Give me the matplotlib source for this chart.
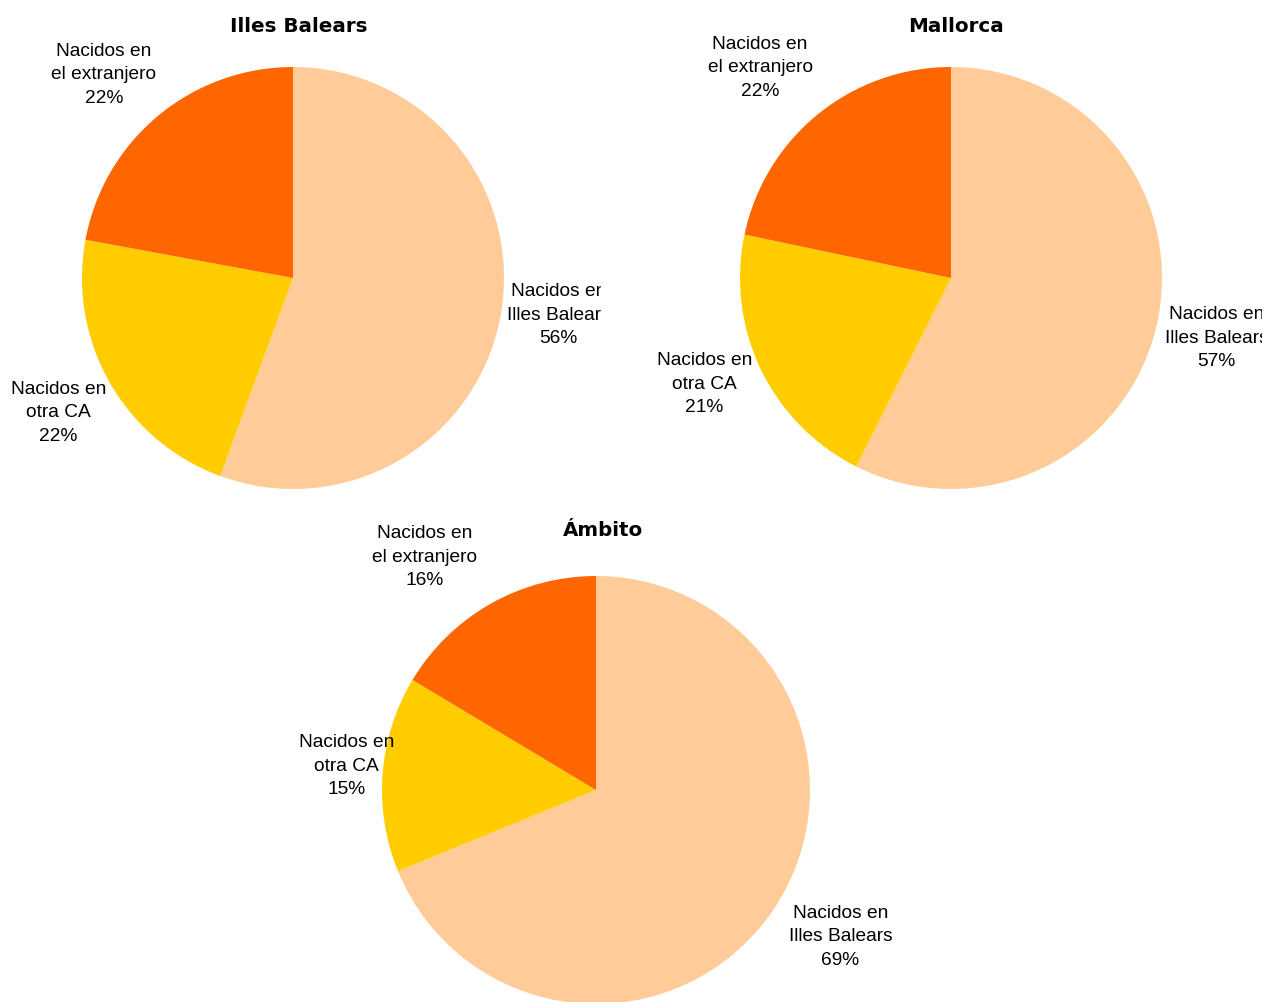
import matplotlib.pyplot as plt
import numpy as np

# Three pies: population by place of birth
categories = ["Nacidos en\nIlles Balears", "Nacidos en\notra CA", "Nacidos en\nel extranjero"]
colors = ["#FFCC99", "#FFCC00", "#FF6600"]

illes_balears = [55.6, 22.3, 22.1]
mallorca = [57.4, 20.9, 21.7]
ambito = [68.8, 14.8, 16.4]

W, H = 1264, 1003


def draw_pie(fig, box, center, radius, values, title, title_xy, label_pos):
	# box is (x0, y0, x1, y1) in pixels, y going down
	x0, y0, x1, y1 = box
	ax = fig.add_axes([x0 / W, 1 - y1 / H, (x1 - x0) / W, (y1 - y0) / H])
	cx, cy = center[0], H - center[1]
	wedges, _ = ax.pie(values, colors=colors, startangle=90, counterclock=False,
		center=(cx, cy), radius=radius, wedgeprops=dict(linewidth=0))
	ax.set_xlim(x0, x1)
	ax.set_ylim(H - y1, H - y0)
	ax.set_aspect("auto")
	ax.axis("off")

	total = sum(values)
	# label_pos: (distance in radii, angle shift clockwise in degrees) per slice
	for w, lab, v, (d, shift) in zip(wedges, categories, values, label_pos):
		mid = np.deg2rad((w.theta1 + w.theta2) / 2 - shift)
		tx = cx + d * radius * np.cos(mid)
		ty = cy + d * radius * np.sin(mid)
		ax.text(tx, ty, "%s\n%.0f%%" % (lab, v / total * 100), ha="center", va="center",
			multialignment="center", fontsize=13.8, family="Liberation Sans",
			linespacing=1.5, clip_on=True)

	fig.text(title_xy[0] / W, 1 - title_xy[1] / H, title, ha="center", va="center",
		fontsize=14.3, fontweight="bold", family="DejaVu Sans")


def main():
	fig = plt.figure(figsize=(W / 100, H / 100), dpi=100)

	draw_pie(fig, (0, 0, 601, 500), (293, 279), 211, illes_balears, "Illes Balears",
		(299, 26), [(1.27, -2.3), (1.28, 0), (1.32, -3)])
	draw_pie(fig, (601, 0, 1262, 500), (951, 279), 211, mallorca, "Mallorca",
		(956, 26), [(1.29, -0.8), (1.27, 2.6), (1.35, -3)])
	draw_pie(fig, (0, 500, 1264, 1003), (596, 791), 214, ambito, "Ámbito",
		(603, 530), [(1.33, -3), (1.17, 1.4), (1.355, -6.7)])

	fig.savefig("out.png", dpi=100)


if __name__ == "__main__":
	main()
